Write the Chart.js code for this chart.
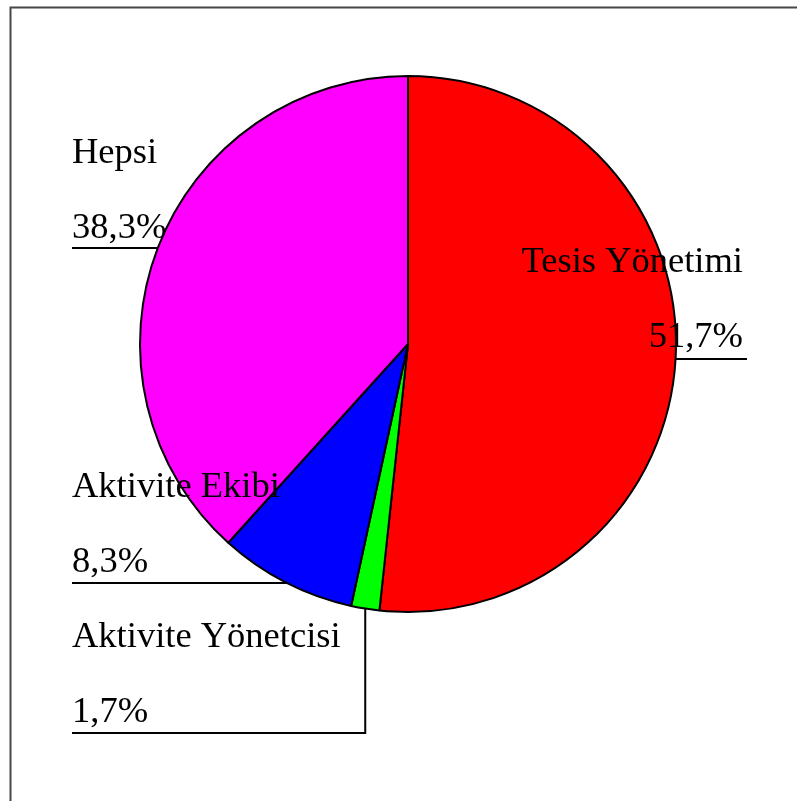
<!DOCTYPE html>
<html>
<head>
<meta charset="utf-8">
<script src="https://cdn.jsdelivr.net/npm/chart.js@4.4.0/dist/chart.umd.min.js"></script>
<style>
    html, body { margin: 0; padding: 0; background: #fff; }
    #wrap { position: relative; width: 797px; height: 801px; }
</style>
</head>
<body>
<div id="wrap"><canvas id="pieChart" width="797" height="801"></canvas></div>
<script>
// 차트 데이터
const categories = ['Tesis Yönetimi', 'Aktivite Yönetcisi', 'Aktivite Ekibi', 'Hepsi'];
const shares = [51.7, 1.7, 8.3, 38.3];
const sliceColors = ['#ff0000', '#00ff00', '#0000ff', '#ff00ff'];

// 라벨 위치 (이름 줄의 기준선), 지시선 종류
const labelLayout = [
    { x: 743, y: 272, align: 'right', leader: 'right', lineY: 359 },
    { x: 72, y: 647, align: 'left', leader: 'down', lineY: 733 },
    { x: 72, y: 497, align: 'left', leader: 'left', lineY: 583 },
    { x: 72, y: 163, align: 'left', leader: 'left', lineY: 248 }
];

const LABEL_FONT = '36.5px "Liberation Serif", "Times New Roman", serif';
const LINE_GAP = 75;

// 바깥 테두리 그리기
const framePlugin = {
    id: 'frame',
    beforeDraw(chart) {
        const ctx = chart.ctx;
        ctx.save();
        ctx.strokeStyle = '#474747';
        ctx.lineWidth = 2;
        ctx.beginPath();
        ctx.moveTo(10.5, chart.height);
        ctx.lineTo(10.5, 7.5);
        ctx.lineTo(chart.width, 7.5);
        ctx.stroke();
        ctx.restore();
    }
};

// 라벨과 지시선 그리기
const labelPlugin = {
    id: 'sliceLabels',
    afterDatasetsDraw(chart) {
        const ctx = chart.ctx;
        const meta = chart.getDatasetMeta(0);
        const total = shares.reduce((a, b) => a + b, 0);
        ctx.save();
        ctx.font = LABEL_FONT;
        ctx.fillStyle = '#000';
        ctx.strokeStyle = '#000';
        ctx.lineWidth = 2;
        ctx.textBaseline = 'alphabetic';
        meta.data.forEach((arc, i) => {
            const p = arc.getProps(['x', 'y', 'outerRadius', 'startAngle', 'endAngle'], true);
            const lay = labelLayout[i];
            const pct = (shares[i] / total * 100).toFixed(1).replace('.', ',') + '%';
            ctx.textAlign = lay.align;
            ctx.fillText(categories[i], lay.x, lay.y);
            ctx.fillText(pct, lay.x, lay.y + LINE_GAP);

            const dy = lay.lineY - p.y;
            const half = Math.sqrt(Math.max(p.outerRadius * p.outerRadius - dy * dy, 0));
            ctx.beginPath();
            if (lay.leader === 'left') {
                ctx.moveTo(lay.x, lay.lineY);
                ctx.lineTo(p.x - half, lay.lineY);
            } else if (lay.leader === 'right') {
                ctx.moveTo(p.x + half, lay.lineY);
                ctx.lineTo(lay.x + 4, lay.lineY);
            } else {
                const mid = (p.startAngle + p.endAngle) / 2;
                const mx = p.x + p.outerRadius * Math.cos(mid);
                const my = p.y + p.outerRadius * Math.sin(mid);
                ctx.moveTo(lay.x, lay.lineY);
                ctx.lineTo(mx, lay.lineY);
                ctx.lineTo(mx, my);
            }
            ctx.stroke();
        });
        ctx.restore();
    }
};

const ctx = document.getElementById('pieChart').getContext('2d');
new Chart(ctx, {
    type: 'pie',
    data: {
        labels: categories,
        datasets: [{
            data: shares,
            backgroundColor: sliceColors,
            borderColor: '#000',
            borderWidth: 2,
            radius: 268
        }]
    },
    options: {
        responsive: false,
        animation: false,
        layout: {
            padding: { left: 20, right: 1, top: 0, bottom: 113 }
        },
        plugins: {
            legend: { display: false },
            tooltip: { enabled: false }
        }
    },
    plugins: [framePlugin, labelPlugin]
});
</script>
</body>
</html>
